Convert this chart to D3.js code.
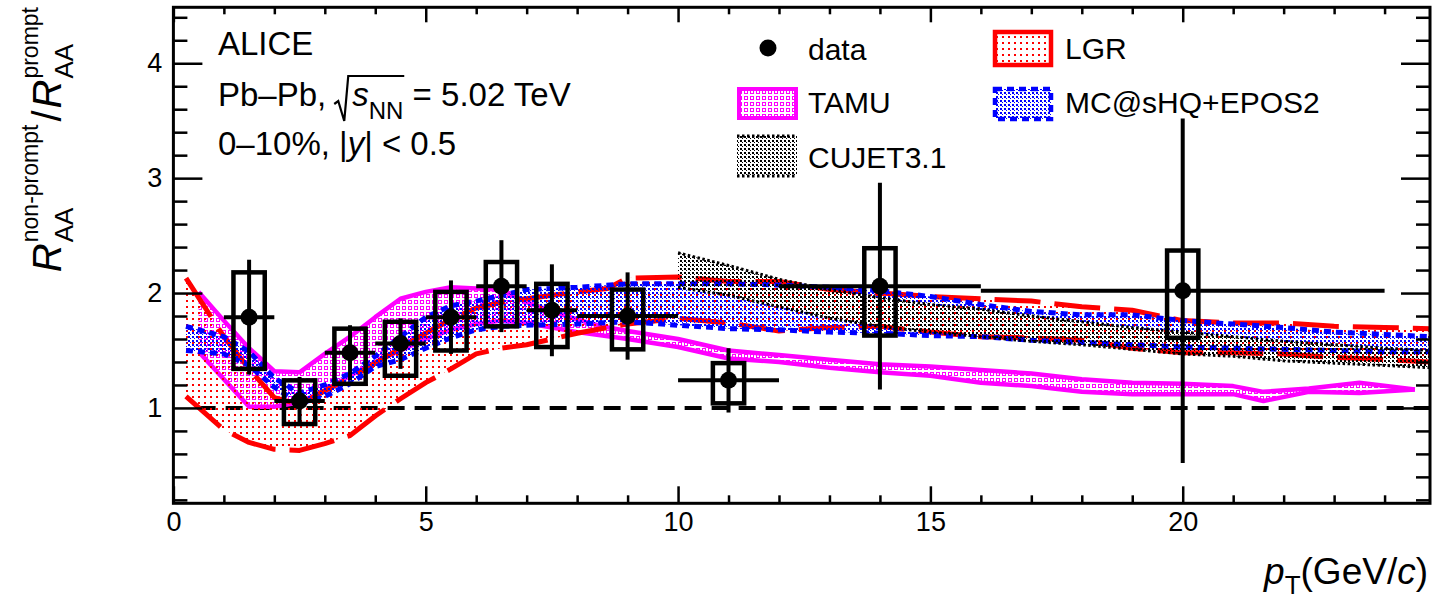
<!DOCTYPE html>
<html><head><meta charset="utf-8">
<script src="https://cdn.jsdelivr.net/npm/d3@7"></script>
<style>
body{margin:0;background:#fff;}
svg{display:block;}
text{font-family:"Liberation Sans",Arial,Helvetica,sans-serif;fill:#000;}
</style>
</head><body>
<svg id="c" width="1447" height="604"></svg>
<script>
// ---------------- data ----------------
const dataPt    = [1.5, 2.5, 3.5, 4.5, 5.5, 6.5, 7.5, 9, 11, 14, 20];
const dataPtLo  = [1, 2, 3, 4, 5, 6, 7, 8, 10, 12, 16];
const dataPtHi  = [2, 3, 4, 5, 6, 7, 8, 10, 12, 16, 24];
const dataVal   = [1.79, 1.06, 1.48, 1.56, 1.79, 2.06, 1.85, 1.80, 1.24, 2.06, 2.02];
const dataStat  = [0.50, 0.21, 0.24, 0.22, 0.32, 0.40, 0.40, 0.38, 0.28, 0.90, 1.50];
const dataSysUp = [0.39, 0.18, 0.21, 0.19, 0.22, 0.21, 0.23, 0.23, 0.15, 0.33, 0.35];
const dataSysDn = [0.45, 0.20, 0.27, 0.28, 0.29, 0.35, 0.32, 0.29, 0.20, 0.43, 0.41];

const lgrPt = [0.25, 1.0, 1.5, 2.0, 2.5, 3.0, 3.5, 4.0, 4.5, 5.0, 5.5, 6.0, 6.5, 7.0, 7.5, 8.0, 8.6, 9.0, 10.0, 11.0, 12.0, 13.0, 14.0, 15.0, 16.0, 17.0, 18.0, 19.0, 20.0, 21.0, 22.0, 23.0, 24.0, 24.9];
const lgrHi = [2.13, 1.62, 1.34, 1.09, 1.03, 1.15, 1.26, 1.39, 1.52, 1.65, 1.77, 1.87, 1.92, 1.95, 1.98, 2.01, 2.04, 2.13, 2.14, 2.10, 2.10, 2.03, 2.00, 1.97, 1.95, 1.93, 1.88, 1.85, 1.76, 1.74, 1.74, 1.71, 1.70, 1.69];
const lgrLo = [1.10, 0.81, 0.70, 0.64, 0.63, 0.69, 0.76, 0.93, 1.08, 1.22, 1.34, 1.47, 1.52, 1.55, 1.60, 1.65, 1.70, 1.73, 1.78, 1.74, 1.67, 1.70, 1.71, 1.66, 1.62, 1.61, 1.59, 1.52, 1.48, 1.48, 1.47, 1.44, 1.42, 1.40];

const tamuPt = [0.5, 1.0, 1.5, 2.0, 2.5, 3.0, 3.5, 4.0, 4.5, 5.0, 5.5, 6.0, 6.5, 7.0, 7.5, 8.0, 8.5, 9.0, 10.0, 11.0, 12.0, 13.0, 14.0, 15.0, 16.0, 17.0, 18.0, 19.0, 20.0, 21.0, 21.6, 22.5, 23.5, 24.6];
const tamuHi = [2.01, 1.76, 1.52, 1.32, 1.31, 1.47, 1.62, 1.79, 1.95, 2.01, 2.05, 2.04, 2.03, 1.92, 1.84, 1.77, 1.71, 1.67, 1.60, 1.50, 1.46, 1.42, 1.38, 1.36, 1.33, 1.30, 1.25, 1.22, 1.21, 1.19, 1.14, 1.17, 1.22, 1.16];
const tamuLo = [1.49, 1.25, 1.01, 1.01, 1.05, 1.15, 1.28, 1.40, 1.50, 1.60, 1.68, 1.73, 1.76, 1.74, 1.70, 1.66, 1.63, 1.60, 1.53, 1.43, 1.40, 1.35, 1.31, 1.28, 1.22, 1.19, 1.14, 1.12, 1.12, 1.12, 1.06, 1.14, 1.13, 1.16];

const mcPt = [0.25, 1.0, 1.5, 2.0, 2.5, 3.0, 3.5, 4.0, 4.5, 5.0, 5.5, 6.0, 6.5, 7.0, 8.0, 9.0, 10.0, 11.0, 12.0, 13.0, 14.0, 15.0, 16.0, 17.0, 18.0, 19.0, 20.0, 21.0, 22.0, 23.0, 24.0, 24.9];
const mcHi = [1.71, 1.62, 1.49, 1.26, 1.13, 1.20, 1.30, 1.45, 1.62, 1.79, 1.89, 1.93, 1.98, 2.03, 2.05, 2.08, 2.08, 2.08, 2.07, 2.05, 2.02, 1.97, 1.90, 1.84, 1.81, 1.81, 1.76, 1.73, 1.70, 1.66, 1.64, 1.62];
const mcLo = [1.50, 1.47, 1.37, 1.18, 1.04, 1.10, 1.21, 1.36, 1.42, 1.52, 1.61, 1.68, 1.71, 1.72, 1.73, 1.75, 1.72, 1.69, 1.68, 1.66, 1.65, 1.63, 1.62, 1.59, 1.57, 1.55, 1.53, 1.52, 1.51, 1.50, 1.49, 1.49];

const cujetPt = [10, 11, 12, 13, 14, 15, 16, 17, 18, 19, 20, 21, 22, 23, 24, 24.9];
const cujetHi = [2.35, 2.24, 2.12, 2.03, 1.96, 1.90, 1.86, 1.80, 1.75, 1.70, 1.66, 1.62, 1.58, 1.55, 1.52, 1.50];
const cujetLo = [2.05, 1.98, 1.88, 1.78, 1.71, 1.66, 1.62, 1.58, 1.55, 1.51, 1.47, 1.45, 1.41, 1.39, 1.37, 1.35];

const xMajor = [0, 5, 10, 15, 20];
const yMajor = [1, 2, 3, 4];
const xLabels = ["0", "5", "10", "15", "20"];
const yLabels = ["1", "2", "3", "4"];

// ---------------- layout ----------------
const F = {l: 173.4, r: 1430, t: 7.3, b: 503.3};
const x = d3.scaleLinear().domain([0, 24.9]).range([F.l, F.r]);
const y = d3.scaleLinear().domain([0.17, 4.487]).range([F.b, F.t]);
const svg = d3.select("#c");
const defs = svg.append("defs");

defs.append("clipPath").attr("id", "clip").append("rect")
  .attr("x", F.l).attr("y", F.t).attr("width", F.r - F.l).attr("height", F.b - F.t);

function pattern(id, size, draw) {
  const p = defs.append("pattern").attr("id", id).attr("patternUnits", "userSpaceOnUse")
    .attr("width", size).attr("height", size);
  draw(p);
}
pattern("pLGR", 6, p => { p.append("rect").attr("x", 0).attr("y", 0).attr("width", 2).attr("height", 2).attr("fill", "#ff0000"); });
pattern("pTAMU", 6, p => { p.append("rect").attr("x", 0.5).attr("y", 0.5).attr("width", 3).attr("height", 3).attr("fill", "none").attr("stroke", "#ff00ff").attr("stroke-width", 1); });
pattern("pMC", 4, p => {
  p.append("rect").attr("x", 0).attr("y", 0).attr("width", 2).attr("height", 2).attr("fill", "#0000ff");
  p.append("rect").attr("x", 2).attr("y", 2).attr("width", 1).attr("height", 1).attr("fill", "#0000ff");
});
pattern("pCUJET", 4, p => {
  p.append("rect").attr("x", 0).attr("y", 0).attr("width", 2).attr("height", 2).attr("fill", "#000");
  p.append("rect").attr("x", 2).attr("y", 2).attr("width", 1).attr("height", 1).attr("fill", "#000");
});

const plot = svg.append("g").attr("clip-path", "url(#clip)");

// reference line at 1
plot.append("line").attr("x1", x(0.5)).attr("x2", x(24.9)).attr("y1", y(1)).attr("y2", y(1))
  .attr("stroke", "#000").attr("stroke-width", 4).attr("stroke-dasharray", "17,10");

function band(pts, hi, lo, fillId, color, width, dash) {
  const d = pts.map((p, i) => ({p, hi: hi[i], lo: lo[i]}));
  const area = d3.area().x(v => x(v.p)).y0(v => y(v.lo)).y1(v => y(v.hi));
  plot.append("path").datum(d).attr("d", area).attr("fill", `url(#${fillId})`).attr("stroke", "none");
  ["hi", "lo"].forEach(k => {
    const ln = d3.line().x(v => x(v.p)).y(v => y(v[k]));
    plot.append("path").datum(d).attr("d", ln).attr("fill", "none").attr("stroke", color)
      .attr("stroke-width", width).attr("stroke-dasharray", dash || null)
      .attr("stroke-linejoin", "round");
  });
}
band(tamuPt, tamuHi, tamuLo, "pTAMU", "#ff00ff", 4.5, null);
band(lgrPt, lgrHi, lgrLo, "pLGR", "#ff0000", 5, "46,14");
band(mcPt, mcHi, mcLo, "pMC", "#0000ff", 5, "7,5");
band(cujetPt, cujetHi, cujetLo, "pCUJET", "#000", 3, "2.5,2.5");

// data
const dg = svg.append("g");
dataPt.forEach((p, i) => {
  const v = dataVal[i];
  dg.append("rect").attr("x", x(p - 0.31)).attr("width", x(p + 0.31) - x(p - 0.31))
    .attr("y", y(v + dataSysUp[i])).attr("height", y(v - dataSysDn[i]) - y(v + dataSysUp[i]))
    .attr("fill", "none").attr("stroke", "#000").attr("stroke-width", 4.5);
  dg.append("line").attr("x1", x(p)).attr("x2", x(p)).attr("y1", y(v + dataStat[i])).attr("y2", y(v - dataStat[i]))
    .attr("stroke", "#000").attr("stroke-width", 4);
  dg.append("line").attr("x1", x(dataPtLo[i])).attr("x2", x(dataPtHi[i])).attr("y1", y(v)).attr("y2", y(v))
    .attr("stroke", "#000").attr("stroke-width", 4);
  dg.append("circle").attr("cx", x(p)).attr("cy", y(v)).attr("r", 8.5).attr("fill", "#000");
});

// ---------------- axes ----------------
const ax = svg.append("g").attr("class", "axes");
function styleAxis(g) {
  g.selectAll("path.domain").remove();
  g.selectAll(".tick line").attr("stroke", "#000").attr("stroke-width", 2.5);
  g.selectAll(".tick text").attr("font-size", 27).attr("font-family", '"Liberation Sans",Arial,sans-serif').attr("fill", "#000");
}
const minorX = d3.range(0, 25, 1).filter(v => v % 5 !== 0);
const minorY = d3.range(0.2, 4.41, 0.2).map(v => +v.toFixed(1)).filter(v => Math.abs(v - Math.round(v)) > 1e-6);

ax.append("g").attr("transform", `translate(0,${F.b})`)
  .call(d3.axisBottom(x).tickValues(xMajor).tickFormat((d, i) => xLabels[i]).tickSizeInner(-17).tickSizeOuter(0).tickPadding(9)).call(styleAxis);
ax.append("g").attr("transform", `translate(0,${F.b})`)
  .call(d3.axisBottom(x).tickValues(minorX).tickFormat("").tickSizeInner(-8).tickSizeOuter(0)).call(styleAxis);
ax.append("g").attr("transform", `translate(0,${F.t})`)
  .call(d3.axisTop(x).tickValues(xMajor).tickFormat("").tickSizeInner(-15).tickSizeOuter(0)).call(styleAxis);
ax.append("g").attr("transform", `translate(0,${F.t})`)
  .call(d3.axisTop(x).tickValues(minorX).tickFormat("").tickSizeInner(-7).tickSizeOuter(0)).call(styleAxis);
ax.append("g").attr("transform", `translate(${F.l},0)`)
  .call(d3.axisLeft(y).tickValues(yMajor).tickFormat((d, i) => yLabels[i]).tickSizeInner(-29).tickSizeOuter(0).tickPadding(11)).call(styleAxis);
ax.append("g").attr("transform", `translate(${F.l},0)`)
  .call(d3.axisLeft(y).tickValues(minorY).tickFormat("").tickSizeInner(-14).tickSizeOuter(0)).call(styleAxis);
ax.append("g").attr("transform", `translate(${F.r},0)`)
  .call(d3.axisRight(y).tickValues(yMajor).tickFormat("").tickSizeInner(-29).tickSizeOuter(0)).call(styleAxis);
ax.append("g").attr("transform", `translate(${F.r},0)`)
  .call(d3.axisRight(y).tickValues(minorY).tickFormat("").tickSizeInner(-14).tickSizeOuter(0)).call(styleAxis);
svg.append("rect").attr("x", F.l).attr("y", F.t).attr("width", F.r - F.l).attr("height", F.b - F.t)
  .attr("fill", "none").attr("stroke", "#000").attr("stroke-width", 3);

// ---------------- titles ----------------
const xt = svg.append("text").attr("x", 1428).attr("y", 584).attr("text-anchor", "end").attr("font-size", 37);
xt.append("tspan").attr("font-style", "italic").text("p");
xt.append("tspan").attr("font-size", 26).attr("dy", 10).text("T");
xt.append("tspan").attr("dy", -10).text("(GeV/");
xt.append("tspan").attr("font-style", "italic").text("c");
xt.append("tspan").text(")");

(function () {
  const g = svg.append("g");
  let pos = 0;
  function piece(txt, size, dy, italic) {
    const t = g.append("text").attr("x", pos).attr("y", dy).attr("font-size", size)
      .attr("font-style", italic ? "italic" : "normal").text(txt);
    return t.node().getComputedTextLength();
  }
  function rTerm(sup) {
    const wR = piece("R", 40, 0, true);
    pos += wR + 1;
    const start = pos;
    const w1 = piece("AA", 26, 12, false);
    pos = start;
    const w2 = piece(sup, 23, -23, false);
    pos = start + Math.max(w1, w2);
  }
  rTerm("non-prompt");
  pos += 3;
  const ws = piece("/", 40, 0, false);
  pos += ws + 2;
  rTerm("prompt");
  const L = pos;
  g.attr("transform", `translate(61,${7 + L}) rotate(-90)`);
})();

svg.append("text").attr("x", 218).attr("y", 55).attr("font-size", 33).text("ALICE");
(function () {
  const t = svg.append("text").attr("x", 218).attr("y", 106).attr("font-size", 33);
  t.append("tspan").text("Pb\u2013Pb,");
  const w0 = t.node().getComputedTextLength();
  const x0 = 218 + w0 + 12;
  svg.append("path").attr("d", `M${x0 - 4},${104} L${x0},${101} L${x0 + 6},${121} L${x0 + 10},${76} L${x0 + 66},${76}`)
    .attr("fill", "none").attr("stroke", "#000").attr("stroke-width", 2.2).attr("stroke-linejoin", "miter");
  const t2 = svg.append("text").attr("x", x0 + 14).attr("y", 106).attr("font-size", 33);
  t2.append("tspan").attr("font-style", "italic").text("s");
  t2.append("tspan").attr("font-size", 24).attr("dy", 13).text("NN");
  t2.append("tspan").attr("dy", -13).text(" = 5.02 TeV");
})();
(function () {
  const t = svg.append("text").attr("x", 218).attr("y", 155).attr("font-size", 33);
  t.append("tspan").text("0\u201310%, |");
  t.append("tspan").attr("font-style", "italic").text("y");
  t.append("tspan").text("| < 0.5");
})();

// ---------------- legend ----------------
const lg = svg.append("g");
lg.append("circle").attr("cx", 768).attr("cy", 48).attr("r", 8.5).attr("fill", "#000");
lg.append("text").attr("x", 808).attr("y", 60).attr("font-size", 30).text("data");

lg.append("rect").attr("x", 739).attr("y", 89).attr("width", 57).attr("height", 29)
  .attr("fill", "url(#pTAMU)").attr("stroke", "#ff00ff").attr("stroke-width", 4);
lg.append("text").attr("x", 808).attr("y", 113).attr("font-size", 30).text("TAMU");

lg.append("rect").attr("x", 737).attr("y", 136).attr("width", 60).attr("height", 40).attr("fill", "url(#pCUJET)");
[136, 176].forEach(yy => lg.append("line").attr("x1", 737).attr("x2", 797).attr("y1", yy).attr("y2", yy)
  .attr("stroke", "#000").attr("stroke-width", 3).attr("stroke-dasharray", "2.5,2.5"));
lg.append("text").attr("x", 808).attr("y", 168).attr("font-size", 30).text("CUJET3.1");

lg.append("rect").attr("x", 995).attr("y", 32).attr("width", 56).attr("height", 33)
  .attr("fill", "url(#pLGR)").attr("stroke", "#ff0000").attr("stroke-width", 4.5);
lg.append("text").attr("x", 1065).attr("y", 59).attr("font-size", 30).text("LGR");

lg.append("rect").attr("x", 995).attr("y", 89).attr("width", 56).attr("height", 30)
  .attr("fill", "url(#pMC)").attr("stroke", "#0000ff").attr("stroke-width", 4.5).attr("stroke-dasharray", "7,5");
lg.append("text").attr("x", 1065).attr("y", 113).attr("font-size", 30).text("MC@sHQ+EPOS2");
</script>
</body></html>
